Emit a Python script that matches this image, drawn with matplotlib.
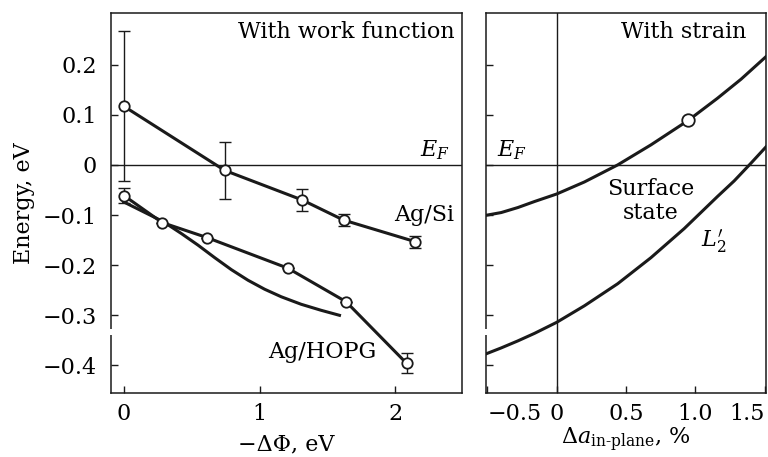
import numpy as np
import matplotlib
matplotlib.use('Agg')
import matplotlib.pyplot as plt
import matplotlib.transforms as mtransforms

plt.rcParams['font.family'] = 'DejaVu Serif'
plt.rcParams['mathtext.fontset'] = 'dejavuserif'
plt.rcParams['font.size'] = 16

# Ag/Si (work function panel)
agsi_x = [0.0, 0.743, 1.314, 1.618, 2.145]
agsi_y = [0.117, -0.011, -0.070, -0.110, -0.153]
agsi_err = [0.150, 0.057, 0.021, 0.012, 0.012]

# Ag/HOPG
hopg_x = [0.0, 0.282, 0.613, 1.208, 1.637, 2.083]
hopg_y = [-0.061, -0.115, -0.145, -0.206, -0.273, -0.396]
hopg_err = [0.015, 0, 0, 0, 0, 0.020]

# theory curve, Ag/HOPG
theo_x = [0.0, 0.289, 0.424, 0.546, 0.669, 0.792, 0.914, 1.037, 1.159, 1.306, 1.453, 1.588]
theo_y = [-0.074, -0.113, -0.137, -0.160, -0.185, -0.209, -0.230, -0.248, -0.263, -0.278,
          -0.290, -0.300]

# strain panel
surf_x = [-0.52, -0.40, -0.28, -0.16, 0.0, 0.20, 0.44, 0.68, 0.95, 1.16, 1.33, 1.51]
surf_y = [-0.101, -0.095, -0.085, -0.073, -0.058, -0.034, 0.0, 0.040, 0.089, 0.133,
          0.171, 0.216]
surf_pt_x = [0.95]
surf_pt_y = [0.089]

l2_x = [-0.52, -0.40, -0.28, -0.16, 0.0, 0.20, 0.44, 0.68, 0.92, 1.16, 1.28, 1.40, 1.51]
l2_y = [-0.378, -0.365, -0.351, -0.336, -0.314, -0.281, -0.237, -0.185, -0.127, -0.063,
        -0.032, 0.003, 0.036]

left_xticks = [0, 1, 2]
right_xticks = [-0.5, 0, 0.5, 1.0, 1.5]
right_xlabels = ['\u22120.5', '0', '0.5', '1.0', '1.5']
yticks = [0.2, 0.1, 0, -0.1, -0.2, -0.3, -0.4]
ylabels = ['0.2', '0.1', '0', '\u22120.1', '\u22120.2', '\u22120.3', '\u22120.4']

ylim = (-0.455, 0.303)
lc = '#1a1a1a'

fig = plt.figure(figsize=(7.68, 4.57), dpi=100)
ax1 = fig.add_axes([0.1445, 0.140, 0.457, 0.8315])
ax2 = fig.add_axes([0.6328, 0.140, 0.3646, 0.8315])

for ax in (ax1, ax2):
    ax.set_ylim(*ylim)
    ax.set_yticks(yticks)
    ax.tick_params(direction='in', length=5, width=1, color=lc)
    ax.tick_params(axis='y', pad=10)
    ax.tick_params(axis='x', pad=7)
    for s in ax.spines.values():
        s.set_linewidth(1.1)
        s.set_color(lc)
    ax.axhline(0, color=lc, lw=1.0, zorder=1)
    # axis break mark on left spine
    tr = mtransforms.blended_transform_factory(ax.transAxes, ax.transData)
    ax.plot([0, 0], [-0.327, -0.340], transform=tr, color='white', lw=3,
            clip_on=False, zorder=5, solid_capstyle='butt')

# left panel
ax1.set_xlim(-0.095, 2.49)
ax1.set_xticks(left_xticks)
ax1.set_yticklabels(ylabels)
ax1.errorbar(agsi_x, agsi_y, yerr=agsi_err, fmt='none', ecolor=lc, elinewidth=1,
             capsize=4.5, capthick=1, zorder=2)
ax1.plot(agsi_x, agsi_y, '-o', color=lc, lw=2.2, ms=7.5, mfc='white', mec=lc,
         mew=1.3, zorder=3)
ax1.plot(theo_x, theo_y, '-', color=lc, lw=2.2, zorder=2)
ax1.errorbar(hopg_x, hopg_y, yerr=hopg_err, fmt='none', ecolor=lc, elinewidth=1,
             capsize=4.5, capthick=1, zorder=2)
ax1.plot(hopg_x, hopg_y, '-o', color=lc, lw=2.2, ms=7.5, mfc='white', mec=lc,
         mew=1.3, zorder=3)
ax1.text(2.434, 0.266, 'With work function', ha='right', va='center')
ax1.text(2.40, 0.03, '$E_F$', ha='right', va='center')
ax1.text(2.434, -0.100, 'Ag/Si', ha='right', va='center')
ax1.text(1.46, -0.373, 'Ag/HOPG', ha='center', va='center')
ax1.set_xlabel('\u2212\u0394\u03a6, eV', labelpad=6)
ax1.set_ylabel('Energy, eV', labelpad=6)

# right panel
ax2.set_xlim(-0.51, 1.51)
ax2.set_xticks(right_xticks)
ax2.set_xticklabels(right_xlabels)
ax2.set_yticklabels([])
tl = ax2.get_xticklabels()
tl[0].set_ha('left')
tl[-1].set_ha('right')
ax2.axvline(0, color=lc, lw=1.0, zorder=1)
ax2.plot(surf_x, surf_y, '-', color=lc, lw=2.2, zorder=2)
ax2.plot(l2_x, l2_y, '-', color=lc, lw=2.2, zorder=2)
ax2.plot(surf_pt_x, surf_pt_y, 'o', ms=9, mfc='white', mec=lc, mew=1.3, zorder=3)
ax2.text(1.368, 0.266, 'With strain', ha='right', va='center')
ax2.text(-0.43, 0.03, '$E_F$', ha='left', va='center')
ax2.text(0.676, -0.072, 'Surface\nstate', ha='center', va='center', linespacing=1.1)
ax2.text(1.13, -0.153, r"$L_{2}^{\prime}$", ha='center', va='center')
ax2.set_xlabel(r'$\Delta a_{\text{in-plane}}$, %', labelpad=1)

fig.savefig('out.png', dpi=100)
